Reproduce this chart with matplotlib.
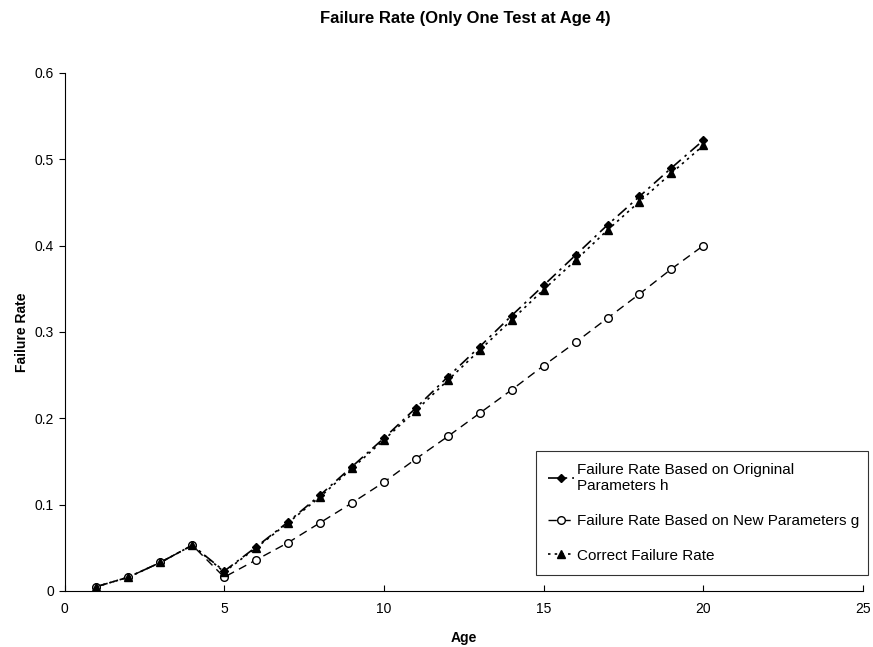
import numpy as np
import matplotlib.pyplot as plt

plt.rcParams['font.family'] = ['Liberation Sans', 'DejaVu Sans']

age = np.arange(1, 21)
rate_h = [0.005, 0.016, 0.033, 0.053, 0.023, 0.051, 0.080, 0.111, 0.144, 0.177,
          0.212, 0.248, 0.283, 0.319, 0.354, 0.389, 0.424, 0.457, 0.490, 0.522]
rate_g = [0.005, 0.016, 0.033, 0.053, 0.016, 0.036, 0.056, 0.079, 0.102, 0.126,
          0.153, 0.179, 0.206, 0.233, 0.261, 0.288, 0.316, 0.344, 0.373, 0.400]
rate_correct = [0.005, 0.016, 0.033, 0.053, 0.022, 0.050, 0.079, 0.109, 0.142, 0.175,
                0.209, 0.244, 0.279, 0.314, 0.349, 0.383, 0.418, 0.451, 0.484, 0.516]

fig = plt.figure(figsize=(8.73, 6.47), dpi=100)
ax = fig.add_axes([0.0739, 0.0866, 0.9147, 0.8006])

ax.plot(age, rate_h, color='black', linewidth=1.2, dashes=(7, 3, 1.5, 3),
        marker='D', markersize=4.5, markerfacecolor='black',
        label='Failure Rate Based on Origninal\nParameters h')
ax.plot(age, rate_g, color='black', linewidth=1.0, dashes=(6, 4),
        marker='o', markersize=5.5, markerfacecolor='white', markeredgewidth=1,
        label='Failure Rate Based on New Parameters g')
ax.plot(age, rate_correct, color='black', linewidth=1.2, dashes=(1.5, 2.5),
        marker='^', markersize=5.5, markerfacecolor='black',
        label='Correct Failure Rate')

ax.set_xlim(0, 25)
ax.set_ylim(0, 0.6)
ax.set_xticks(np.arange(0, 26, 5))
ax.set_yticks(np.arange(0, 0.61, 0.1))
ax.set_yticklabels(['0', '0.1', '0.2', '0.3', '0.4', '0.5', '0.6'])
ax.spines['top'].set_visible(False)
ax.spines['right'].set_visible(False)
ax.tick_params(axis='x', labelsize=10, direction='in', length=4, pad=8)
ax.tick_params(axis='y', labelsize=10, direction='out', length=4)

ax.set_xlabel('Age', fontsize=10, fontweight='bold', labelpad=11)
ax.set_ylabel('Failure Rate', fontsize=10, fontweight='bold', labelpad=4)
fig.text(0.533, 0.972, 'Failure Rate (Only One Test at Age 4)', fontsize=12,
         fontweight='bold', ha='center', va='center')

leg = ax.legend(loc='lower left', bbox_to_anchor=(0.5905, 0.031, 0.4158, 0.241),
                mode='expand', fontsize=11, frameon=True, fancybox=False,
                edgecolor='black', handlelength=1.7, handletextpad=0.2,
                labelspacing=1.35, borderaxespad=0, borderpad=0.8)
leg.get_frame().set_linewidth(0.8)

fig.savefig('out.png', dpi=100)
